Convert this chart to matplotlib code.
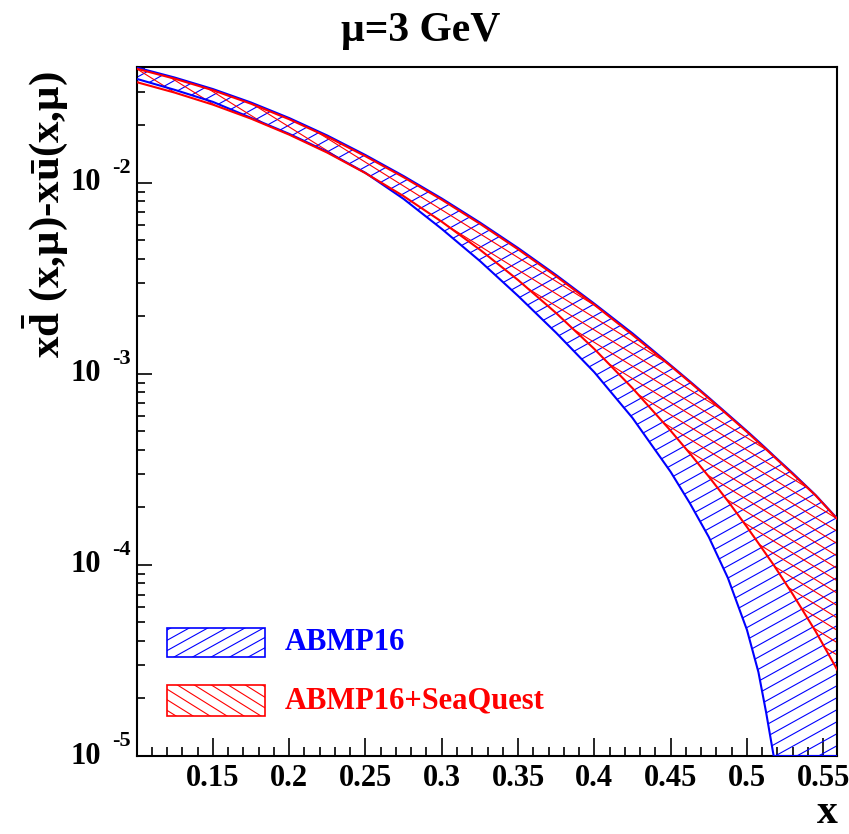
import numpy as np
import matplotlib
matplotlib.use('Agg')
import matplotlib.pyplot as plt
from matplotlib.collections import LineCollection
from matplotlib.patches import Rectangle
from matplotlib.ticker import MultipleLocator, NullFormatter, FuncFormatter, LogLocator

plt.rcParams['font.family'] = ['Liberation Serif', 'DejaVu Serif']
plt.rcParams['font.weight'] = 'bold'
plt.rcParams['mathtext.fontset'] = 'custom'
plt.rcParams['mathtext.rm'] = 'Liberation Serif:bold'
plt.rcParams['mathtext.bf'] = 'Liberation Serif:bold'
plt.rcParams['mathtext.it'] = 'Liberation Serif:bold'

# x grid
x = [0.100, 0.125, 0.150, 0.175, 0.200, 0.225, 0.250, 0.275, 0.300, 0.325,
     0.350, 0.375, 0.400, 0.425, 0.450, 0.4625, 0.475, 0.4875, 0.500, 0.5075,
     0.5125, 0.5175, 0.530, 0.545, 0.560]

# ABMP16 band
abmp_hi = [0.04016, 0.03558, 0.03098, 0.02633, 0.02184, 0.01769, 0.01398,
           0.01085, 0.00828, 0.00620, 0.00456, 0.00329, 0.00233, 0.00163,
           0.00111, 9.15e-4, 7.51e-4, 6.14e-4, 5.02e-4, 4.43e-4, 4.07e-4,
           3.73e-4, 3.02e-4, 2.32e-4, 1.72e-4]
abmp_lo = [0.03503, 0.03068, 0.02654, 0.02189, 0.01805, 0.01453, 0.01128,
           0.00824, 0.00574, 0.00390, 0.00256, 0.00164, 0.00102, 5.88e-4,
           3.07e-4, 2.11e-4, 1.40e-4, 8.55e-5, 4.57e-5, 2.75e-5, 1.70e-5,
           1.0e-5, 1.0e-5, 1.0e-5, 1.0e-5]  # runs off the bottom at x~0.517

# ABMP16+SeaQuest band
sq_hi = [0.03958, 0.03508, 0.03054, 0.02595, 0.02153, 0.01743, 0.01378,
         0.01070, 0.00816, 0.00611, 0.00449, 0.00324, 0.00230, 0.00160,
         0.00110, 9.06e-4, 7.44e-4, 6.08e-4, 4.97e-4, 4.38e-4, 4.03e-4,
         3.70e-4, 2.99e-4, 2.31e-4, 1.71e-4]
sq_lo = [0.03367, 0.02967, 0.02567, 0.02168, 0.01788, 0.01439, 0.01124,
         0.00852, 0.00626, 0.00447, 0.00310, 0.00208, 0.00135, 8.42e-4,
         5.04e-4, 3.84e-4, 2.90e-4, 2.16e-4, 1.58e-4, 1.30e-4, 1.14e-4,
         1.00e-4, 7.03e-5, 4.49e-5, 2.75e-5]

labels = ['ABMP16', 'ABMP16+SeaQuest']
colors = ['blue', 'red']
ydecades = [1e-5, 1e-4, 1e-3, 1e-2]
ydec_exp = ['-5', '-4', '-3', '-2']
title = 'μ=3 GeV'
ylabel = r'x$\bar{\mathrm{d}}$ (x,μ)-x$\bar{\mathrm{u}}$(x,μ)'

fig = plt.figure(figsize=(8.49, 8.34), dpi=100)
ax = fig.add_axes([137/849, 78/834, 700/849, 689/834])
ax.set_yscale('log')
ax.set_xlim(0.1003, 0.559)
ax.set_ylim(1e-5, 0.0404)

W, H = ax.bbox.width, ax.bbox.height


def hatch(clip, angle, step, color, transform=None):
    # parallel lines in pixel space, clipped to the band
    t = np.radians(angle)
    d = np.array([np.cos(t), np.sin(t)])
    n = np.array([-np.sin(t), np.cos(t)])
    L = np.hypot(W, H)
    k = int(L / step) + 2
    segs = []
    for i in range(-k, k + 1):
        c = np.array([W / 2, H / 2]) + i * step * n
        p0, p1 = c - L * d, c + L * d
        segs.append([(p0[0] / W, p0[1] / H), (p1[0] / W, p1[1] / H)])
    lc = LineCollection(segs, transform=ax.transAxes, colors=color, linewidths=0.8)
    ax.add_collection(lc, autolim=False)
    if transform is None:
        lc.set_clip_path(clip)
    else:
        lc.set_clip_path(clip, transform)
    return lc


bands = [(abmp_lo, abmp_hi, 29), (sq_lo, sq_hi, -32)]
for (lo, hi, ang), col in zip(bands, colors):
    poly = ax.fill_between(x, lo, hi, facecolor='none', edgecolor='none', linewidth=0)
    hatch(poly.get_paths()[0], ang, 10.5, col, ax.transData)
    ax.plot(x, hi, color=col, lw=1.5, zorder=3)
    ax.plot(x, lo, color=col, lw=1.5, zorder=3)

# legend
for i, (lab, col, (_, _, ang)) in enumerate(zip(labels, colors, bands)):
    yb = [0.1437, 0.0581][i]
    hb = [0.0421, 0.0449][i]
    r = Rectangle((0.043, yb), 0.140, hb, transform=ax.transAxes,
                  fill=False, edgecolor=col, lw=1.2, zorder=4)
    ax.add_patch(r)
    hatch(r, ang, 9, col)
    ax.text(0.211, yb + hb / 2, lab, transform=ax.transAxes, color=col,
            fontsize=22, ha='left', va='center')

# ticks
ax.xaxis.set_major_locator(MultipleLocator(0.05))
ax.xaxis.set_minor_locator(MultipleLocator(0.01))
ax.xaxis.set_major_formatter(FuncFormatter(lambda v, p: f'{v:g}'))
ax.yaxis.set_major_locator(LogLocator(base=10))
ax.yaxis.set_minor_locator(LogLocator(base=10, subs=np.arange(2, 10)))
ax.yaxis.set_major_formatter(NullFormatter())
ax.yaxis.set_minor_formatter(NullFormatter())
ax.tick_params(which='both', direction='in', top=False, right=False, width=1.2)
ax.tick_params(axis='x', which='major', length=13, labelsize=22, pad=6)
ax.tick_params(axis='x', which='minor', length=6.5)
ax.tick_params(axis='y', which='major', length=11)
ax.tick_params(axis='y', which='minor', length=5.5)
for s in ax.spines.values():
    s.set_linewidth(1.5)

for v, e in zip(ydecades, ydec_exp):
    ax.annotate('10', xy=(0, v), xycoords=('axes fraction', 'data'),
                xytext=(-36, 0), textcoords='offset pixels',
                ha='right', va='center', fontsize=22)
    ax.annotate(e, xy=(0, v), xycoords=('axes fraction', 'data'),
                xytext=(-25, 15), textcoords='offset pixels',
                ha='left', va='center', fontsize=16)

fig.text(0.496, 0.963, title, ha='center', va='center', fontsize=30)
fig.text(0.053, 0.742, ylabel, rotation=90, ha='center', va='center', fontsize=31)
fig.text(0.987, 0.002, 'x', ha='right', va='bottom', fontsize=30)

fig.savefig('out.png', dpi=100)
